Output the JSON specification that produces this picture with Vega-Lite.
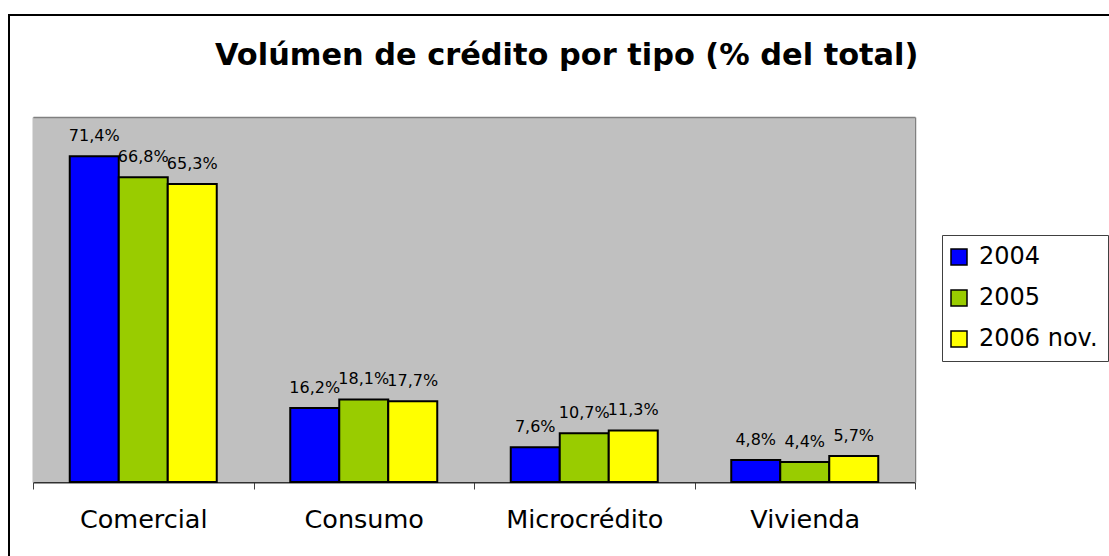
{
  "$schema": "https://vega.github.io/schema/vega-lite/v6.json",
  "width": 1120,
  "height": 560,
  "autosize": {"type": "none"},
  "padding": {"left": 9, "top": 15, "right": 0, "bottom": 0},
  "background": "white",
  "config": {
    "locale": {"number": {"decimal": ",", "thousands": ".", "grouping": [3], "currency": ["", ""]}},
    "view": {"stroke": "black", "strokeWidth": 2, "fill": "white"},
    "font": "DejaVu Sans"
  },
  "title": {
    "text": "Volúmen de crédito por tipo (% del total)",
    "font": "DejaVu Sans",
    "fontSize": 30.4,
    "fontWeight": "bold",
    "color": "black",
    "anchor": "start",
    "baseline": "alphabetic",
    "dx": 206,
    "dy": 80,
    "offset": 0
  },
  "data": {
    "values": [
      {"tipo": "Comercial", "serie": "2004", "valor": 0.714},
      {"tipo": "Comercial", "serie": "2005", "valor": 0.668},
      {"tipo": "Comercial", "serie": "2006 nov.", "valor": 0.653},
      {"tipo": "Consumo", "serie": "2004", "valor": 0.162},
      {"tipo": "Consumo", "serie": "2005", "valor": 0.181},
      {"tipo": "Consumo", "serie": "2006 nov.", "valor": 0.177},
      {"tipo": "Microcrédito", "serie": "2004", "valor": 0.076},
      {"tipo": "Microcrédito", "serie": "2005", "valor": 0.107},
      {"tipo": "Microcrédito", "serie": "2006 nov.", "valor": 0.113},
      {"tipo": "Vivienda", "serie": "2004", "valor": 0.048},
      {"tipo": "Vivienda", "serie": "2005", "valor": 0.044},
      {"tipo": "Vivienda", "serie": "2006 nov.", "valor": 0.057}
    ]
  },
  "resolve": {"axis": {"x": "independent", "y": "independent"}},
  "layer": [
    {
      "mark": {"type": "rect", "color": "#C0C0C0"},
      "encoding": {
        "x": {
          "field": "tipo",
          "type": "nominal",
          "sort": ["Comercial", "Consumo", "Microcrédito", "Vivienda"],
          "scale": {"range": [24, 906], "paddingInner": 0, "paddingOuter": 0},
          "axis": {
            "title": null,
            "orient": "top",
            "offset": -102,
            "labels": false,
            "ticks": false,
            "grid": false,
            "domainColor": "#808080",
            "domainWidth": 1.5
          }
        },
        "y": {
          "datum": 0.8,
          "type": "quantitative",
          "scale": {"domain": [0, 0.8], "range": [467, 102]},
          "axis": {
            "title": null,
            "orient": "left",
            "offset": -24,
            "labels": false,
            "ticks": false,
            "grid": false,
            "domainColor": "#808080",
            "domainWidth": 1.5
          }
        },
        "y2": {"datum": 0}
      }
    },
    {
      "mark": {"type": "bar", "stroke": "black", "strokeWidth": 2, "strokeOpacity": 1},
      "encoding": {
        "x": {
          "field": "tipo",
          "type": "nominal",
          "sort": ["Comercial", "Consumo", "Microcrédito", "Vivienda"],
          "axis": null
        },
        "xOffset": {
          "field": "serie",
          "type": "nominal",
          "scale": {"paddingInner": 0, "paddingOuter": 0.75}
        },
        "y": {
          "field": "valor",
          "type": "quantitative",
          "axis": {
            "title": null,
            "orient": "right",
            "offset": -214,
            "labels": false,
            "ticks": false,
            "grid": false,
            "domainColor": "#808080",
            "domainWidth": 1.5
          }
        },
        "fill": {
          "field": "serie",
          "type": "nominal",
          "scale": {"domain": ["2004", "2005", "2006 nov."], "range": ["#0000FF", "#99CC00", "#FFFF00"]},
          "legend": {
            "title": null,
            "orient": "none",
            "legendX": 933,
            "legendY": 220,
            "strokeColor": "#404040",
            "fillColor": "white",
            "padding": 10,
            "symbolType": "square",
            "symbolSize": 256,
            "symbolOffset": -5,
            "symbolStrokeColor": "black",
            "symbolStrokeWidth": 1.5,
            "labelFont": "DejaVu Sans",
            "labelFontSize": 24,
            "labelColor": "black",
            "labelOffset": 8,
            "rowPadding": 17,
            "symbolOpacity": 1
          }
        }
      }
    },
    {
      "mark": {"type": "text", "font": "DejaVu Sans", "fontSize": 16, "color": "black", "baseline": "alphabetic", "dy": -15},
      "encoding": {
        "x": {
          "field": "tipo",
          "type": "nominal",
          "sort": ["Comercial", "Consumo", "Microcrédito", "Vivienda"],
          "axis": {
            "title": null,
            "orient": "bottom",
            "labelAngle": 0,
            "labelFont": "DejaVu Sans",
            "labelFontSize": 25.5,
            "labelColor": "black",
            "labelPadding": 18,
            "tickBand": "extent",
            "ticks": true,
            "tickSize": 7,
            "tickColor": "#404040",
            "tickWidth": 1,
            "domainColor": "#303030",
            "domainWidth": 2,
            "grid": false,
            "offset": -93
          }
        },
        "xOffset": {
          "field": "serie",
          "type": "nominal",
          "scale": {"paddingInner": 0, "paddingOuter": 0.75}
        },
        "y": {"field": "valor", "type": "quantitative", "axis": null},
        "text": {"field": "valor", "type": "quantitative", "format": ".1%"}
      }
    }
  ]
}
